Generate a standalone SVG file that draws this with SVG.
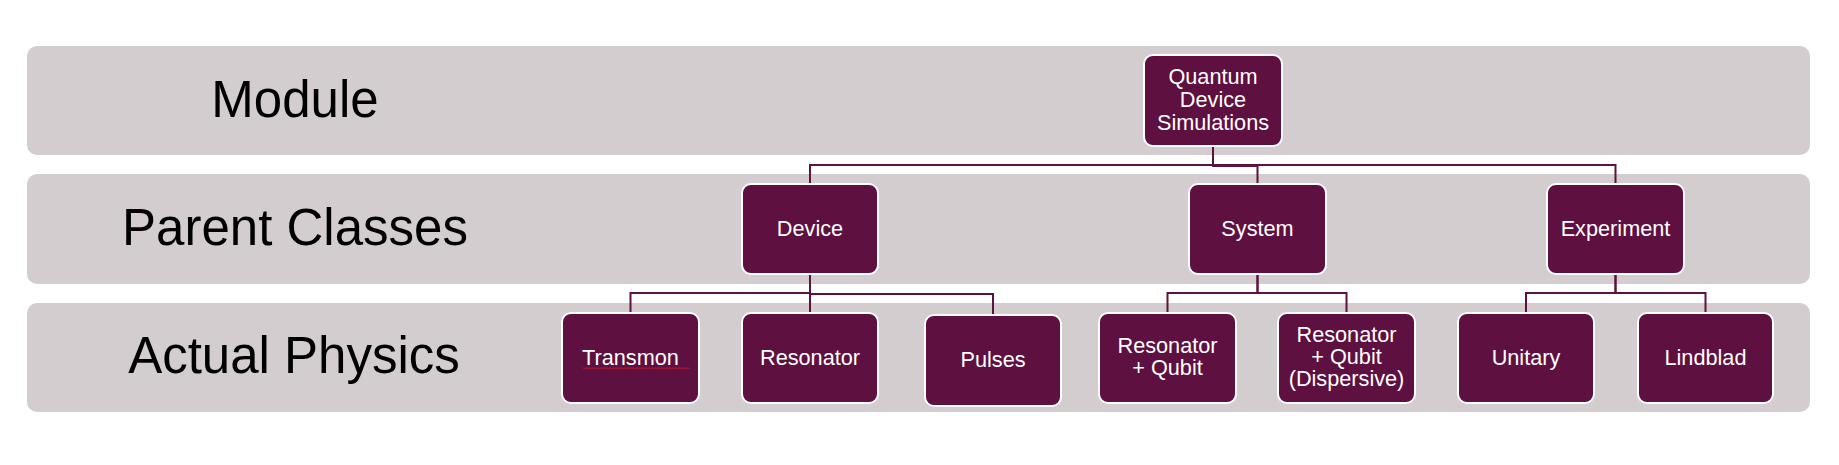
<svg xmlns="http://www.w3.org/2000/svg" width="1839" height="465" viewBox="0 0 1839 465">
<style>
.band{fill:#d3cdcf}
.lbl{font-family:"Liberation Sans",Arial,sans-serif;font-size:51px;fill:#000;text-anchor:middle}
.box{fill:#5e1040;stroke:#fff;stroke-width:2}
.t{font-family:"Liberation Sans",Arial,sans-serif;font-size:21.7px;fill:#fff;text-anchor:middle}
.c{fill:none;stroke:#5e1040;stroke-width:2}
</style>
<rect width="1839" height="465" fill="#fff"/>
<g id="band-module"><rect class="band" x="27" y="46" width="1783" height="109" rx="10"/><text class="lbl" x="295" y="117">Module</text></g>
<g id="band-parent"><rect class="band" x="27" y="174" width="1783" height="110" rx="10"/><text class="lbl" x="295" y="245">Parent Classes</text></g>
<g id="band-physics"><rect class="band" x="27" y="303" width="1783" height="109" rx="10"/><text class="lbl" x="294" y="373">Actual Physics</text></g>
<g id="connectors">
<path class="c" d="M1213 146V165H810V184"/>
<path class="c" d="M1213 146V166H1257.5V184"/>
<path class="c" d="M1213 146V165H1615.5V184"/>
<path class="c" d="M810 274V293H630.5V313"/>
<path class="c" d="M810 274V313"/>
<path class="c" d="M810 274V294H993V315"/>
<path class="c" d="M1257.5 274V293H1167.5V313"/>
<path class="c" d="M1257.5 274V293H1346.5V313"/>
<path class="c" d="M1615.5 274V293H1526V313"/>
<path class="c" d="M1615.5 274V293H1705.5V313"/>
</g>
<g id="qds"><rect class="box" x="1144" y="55" width="138" height="91" rx="9"/><text class="t" x="1213" y="84">Quantum</text><text class="t" x="1213" y="107">Device</text><text class="t" x="1213" y="130">Simulations</text></g>
<g id="device"><rect class="box" x="742" y="184" width="136" height="90" rx="9"/><text class="t" x="810" y="236">Device</text></g>
<g id="system"><rect class="box" x="1189" y="184" width="137" height="90" rx="9"/><text class="t" x="1257.5" y="236">System</text></g>
<g id="experiment"><rect class="box" x="1547" y="184" width="137" height="90" rx="9"/><text class="t" x="1615.5" y="236">Experiment</text></g>
<g id="transmon"><rect class="box" x="562" y="313" width="137" height="90" rx="9"/><text class="t" x="630.5" y="365">Transmon</text><path d="M583 367.5l1.5 1.5 1.5-1.5 1.5 1.5 1.5-1.5 1.5 1.5 1.5-1.5 1.5 1.5 1.5-1.5 1.5 1.5 1.5-1.5 1.5 1.5 1.5-1.5 1.5 1.5 1.5-1.5 1.5 1.5 1.5-1.5 1.5 1.5 1.5-1.5 1.5 1.5 1.5-1.5 1.5 1.5 1.5-1.5 1.5 1.5 1.5-1.5 1.5 1.5 1.5-1.5 1.5 1.5 1.5-1.5 1.5 1.5 1.5-1.5 1.5 1.5 1.5-1.5 1.5 1.5 1.5-1.5 1.5 1.5 1.5-1.5 1.5 1.5 1.5-1.5 1.5 1.5 1.5-1.5 1.5 1.5 1.5-1.5 1.5 1.5 1.5-1.5 1.5 1.5 1.5-1.5 1.5 1.5 1.5-1.5 1.5 1.5 1.5-1.5 1.5 1.5 1.5-1.5 1.5 1.5 1.5-1.5 1.5 1.5 1.5-1.5 1.5 1.5 1.5-1.5 1.5 1.5 1.5-1.5 1.5 1.5 1.5-1.5 1.5 1.5 1.5-1.5 1.5 1.5 1.5-1.5 1.5 1.5 1.5-1.5 1.5 1.5 1.5-1.5 1.5 1.5" fill="none" stroke="#e02020" stroke-width="0.8"/></g>
<g id="resonator"><rect class="box" x="742" y="313" width="136" height="90" rx="9"/><text class="t" x="810" y="365">Resonator</text></g>
<g id="pulses"><rect class="box" x="925" y="315" width="136" height="91" rx="9"/><text class="t" x="993" y="367">Pulses</text></g>
<g id="resonator-qubit"><rect class="box" x="1099" y="313" width="137" height="90" rx="9"/><text class="t" x="1167.5" y="353">Resonator</text><text class="t" x="1167.5" y="375">+ Qubit</text></g>
<g id="resonator-qubit-dispersive"><rect class="box" x="1278" y="313" width="137" height="90" rx="9"/><text class="t" x="1346.5" y="342">Resonator</text><text class="t" x="1346.5" y="364">+ Qubit</text><text class="t" x="1346.5" y="386">(Dispersive)</text></g>
<g id="unitary"><rect class="box" x="1458" y="313" width="136" height="90" rx="9"/><text class="t" x="1526" y="365">Unitary</text></g>
<g id="lindblad"><rect class="box" x="1638" y="313" width="135" height="90" rx="9"/><text class="t" x="1705.5" y="365">Lindblad</text></g>
</svg>
